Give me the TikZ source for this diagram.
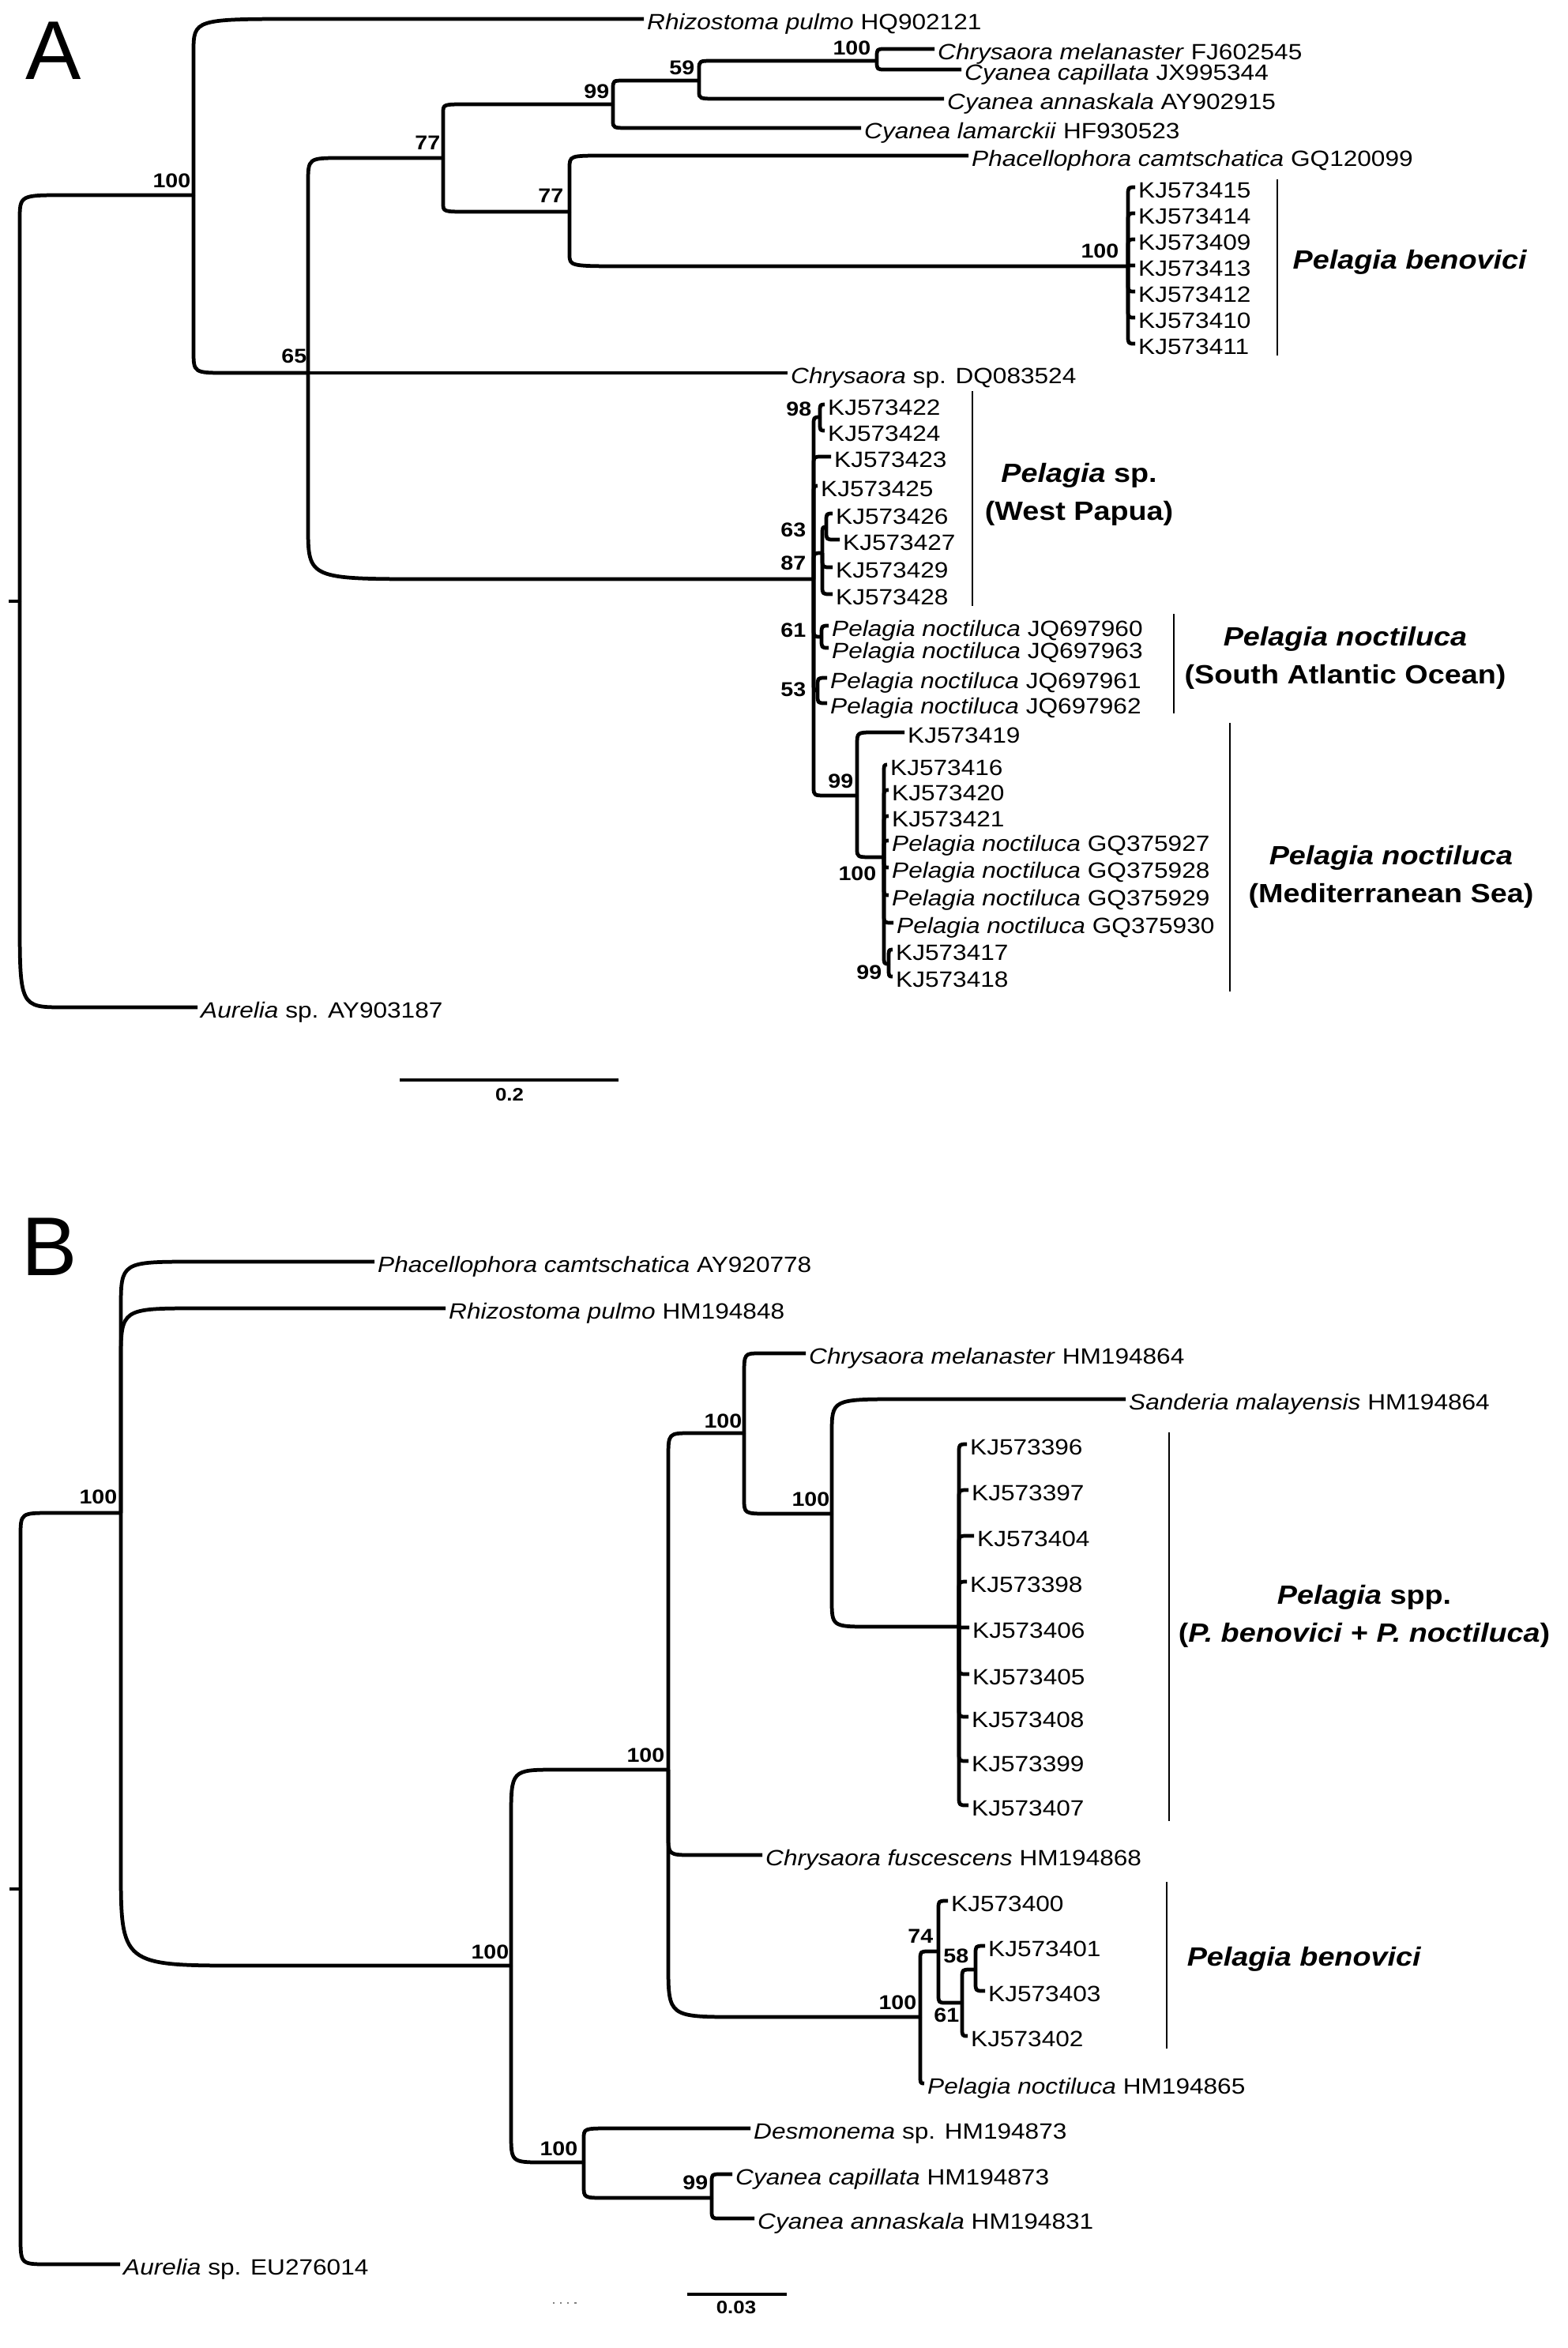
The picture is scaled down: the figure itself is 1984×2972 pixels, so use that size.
\documentclass[tikz,border=0pt]{standalone}
\usepackage{fontspec}
\setmainfont{Liberation Sans}[FakeStretch=1.13]
\newfontfamily\panelfont{Liberation Sans}
\usetikzlibrary{calc}

\newcommand\tipsize{\fontsize{7.95}{9}\selectfont}
\newcommand\bootsize{\fontsize{7.2}{8}\selectfont\bfseries}
\newcommand\cladesize{\fontsize{9.5}{13.66}\selectfont\bfseries}
\newcommand\barsize{\fontsize{6.5}{7}\selectfont\bfseries}

\tikzset{
  tip/.style={anchor=west, inner xsep=1pt, inner ysep=0pt, text height=1.75ex, text depth=0.35ex, font=\tipsize},
  boot/.style={anchor=south east, inner sep=0pt, font=\bootsize},
  clade/.style={inner sep=0pt, align=center, font=\cladesize},
  panel/.style={anchor=base west, inner sep=0pt, font=\panelfont\fontsize{30}{30}\selectfont},
  branch/.style 2 args={line width=1.35pt, line join=round, to path={let \p1=(\tikztostart), \p2=(\tikztotarget),
      \n1={sign(\y1-\y2)}, \n2={min(#2,abs(\y1-\y2))}, \n3={min(#1,\x2-\x1)} in
      (\p1) -- (\x1,{\y2+\n1*\n2}) .. controls (\x1,\y2) .. ({\x1+\n3},\y2) -- (\p2)}},
  branch/.default={3}{3},
  bracket/.style={line width=0.8pt},
  scalebar/.style={line width=0.9pt}
}

\begin{document}
\begin{tikzpicture}[x=0.01cm, y=-0.01cm]
\useasboundingbox (0,0) rectangle (1984,2972);

% ---------------- Panel A ----------------
\node[panel] (labA) at (32,100) {A};

% internal nodes
\coordinate (rA) at (25,761);
\coordinate (a100) at (245,247);
\coordinate (n65) at (390,472);
\coordinate (n77a) at (561,200);
\coordinate (n99a) at (776,132);
\coordinate (n59) at (885,102);
\coordinate (n100c) at (1110,77);
\coordinate (n77b) at (721,268);
\coordinate (pb100) at (1428,337);
\coordinate (nbase) at (1030,733);
\coordinate (n98) at (1038,528);
\coordinate (n63) at (1041,700);
\coordinate (nsub63) at (1046,667);
\coordinate (n61) at (1040,806);
\coordinate (n53) at (1035,874);
\coordinate (n99m) at (1085,1007);
\coordinate (n100m) at (1119,1085);
\coordinate (n99s) at (1125,1220);

% taxa
\node[tip] (rhiA) at (815,24) {\textit{Rhizostoma pulmo} HQ902121};
\node[tip] (chrmelA) at (1183,62) {\textit{Chrysaora melanaster} FJ602545};
\node[tip] (cycapA) at (1217,88) {\textit{Cyanea capillata} JX995344};
\node[tip] (cyannA) at (1195,125) {\textit{Cyanea annaskala} AY902915};
\node[tip] (cylamA) at (1090,162) {\textit{Cyanea lamarckii} HF930523};
\node[tip] (phacA) at (1226,197) {\textit{Phacellophora camtschatica} GQ120099};
\node[tip] (kj15) at (1437,237) {KJ573415};
\node[tip] (kj14) at (1437,270) {KJ573414};
\node[tip] (kj09) at (1437,303) {KJ573409};
\node[tip] (kj13) at (1437,336) {KJ573413};
\node[tip] (kj12) at (1437,369) {KJ573412};
\node[tip] (kj10) at (1437,402) {KJ573410};
\node[tip] (kj11) at (1437,435) {KJ573411};
\node[tip] (chrspA) at (997,472) {\textit{Chrysaora} sp. DQ083524};
\node[tip] (kj22) at (1044,512) {KJ573422};
\node[tip] (kj24) at (1044,545) {KJ573424};
\node[tip] (kj23) at (1052,578) {KJ573423};
\node[tip] (kj25) at (1035,615) {KJ573425};
\node[tip] (kj26) at (1054,650) {KJ573426};
\node[tip] (kj27) at (1063,683) {KJ573427};
\node[tip] (kj29) at (1054,718) {KJ573429};
\node[tip] (kj28) at (1054,752) {KJ573428};
\node[tip] (jq60) at (1049,792) {\textit{Pelagia noctiluca} JQ697960};
\node[tip] (jq63) at (1049,820) {\textit{Pelagia noctiluca} JQ697963};
\node[tip] (jq61) at (1047,858) {\textit{Pelagia noctiluca} JQ697961};
\node[tip] (jq62) at (1047,890) {\textit{Pelagia noctiluca} JQ697962};
\node[tip] (kj19) at (1145,927) {KJ573419};
\node[tip] (kj16) at (1123,968) {KJ573416};
\node[tip] (kj20) at (1125,1000) {KJ573420};
\node[tip] (kj21) at (1125,1033) {KJ573421};
\node[tip] (gq27) at (1125,1064) {\textit{Pelagia noctiluca} GQ375927};
\node[tip] (gq28) at (1125,1098) {\textit{Pelagia noctiluca} GQ375928};
\node[tip] (gq29) at (1125,1133) {\textit{Pelagia noctiluca} GQ375929};
\node[tip] (gq30) at (1131,1168) {\textit{Pelagia noctiluca} GQ375930};
\node[tip] (kj17) at (1130,1202) {KJ573417};
\node[tip] (kj18) at (1130,1236) {KJ573418};
\node[tip] (aurA) at (250,1275) {\textit{Aurelia} sp. AY903187};

% branches
\draw[line width=1.35pt] (rA) -- ++(-14,0);
\draw[branch={16}{9}] (rA) to (a100);
\draw[branch={16}{33}] (rA) to (aurA.west);
\draw[branch={39}{12}] (a100) to (rhiA.west);
\draw[branch={12}{8}] (a100) to (n65);
\draw[branch={12}{9}] (n65) to (n77a);
\draw[branch] (n65) to (chrspA.west);
\draw[branch={44}{19}] (n65) to (nbase);
\draw[branch={8.5}{3}] (n77a) to (n99a);
\draw[branch={9}{3}] (n77a) to (n77b);
\draw[branch={4}{3}] (n99a) to (n59);
\draw[branch={6}{2.6}] (n99a) to (cylamA.west);
\draw[branch={5}{3}] (n59) to (n100c);
\draw[branch={7}{2.5}] (n59) to (cyannA.west);
\draw[branch] (n100c) to (chrmelA.west);
\draw[branch] (n100c) to (cycapA.west);
\draw[branch={12.5}{4.5}] (n77b) to (phacA.west);
\draw[branch={21}{4.3}] (n77b) to (pb100);
\foreach \t in {kj15,kj14,kj09,kj13,kj12,kj10,kj11}
  \draw[branch] (pb100) to (\t.west);
\foreach \t in {n98,n63,n61,n53}
  \draw[branch] (nbase) to (\t);
\foreach \t in {kj23,kj25}
  \draw[branch] (nbase) to (\t.west);
\draw[branch={5}{3}] (nbase) to (n99m);
\draw[branch] (n98) to (kj22.west);
\draw[branch] (n98) to (kj24.west);
\draw[branch] (n63) to (nsub63);
\draw[branch] (n63) to (kj29.west);
\draw[branch] (n63) to (kj28.west);
\draw[branch] (nsub63) to (kj26.west);
\draw[branch] (nsub63) to (kj27.west);
\draw[branch] (n61) to (jq60.west);
\draw[branch] (n61) to (jq63.west);
\draw[branch] (n53) to (jq61.west);
\draw[branch] (n53) to (jq62.west);
\draw[branch={6}{4.5}] (n99m) to (kj19.west);
\draw[branch={6}{3}] (n99m) to (n100m);
\foreach \t in {kj16,kj20,kj21,gq27,gq28,gq29,gq30}
  \draw[branch] (n100m) to (\t.west);
\draw[branch] (n100m) to (n99s);
\draw[branch] (n99s) to (kj17.west);
\draw[branch] (n99s) to (kj18.west);

% bootstrap values
\node[boot] at (242,238) {100};
\node[boot] at (389,460) {65};
\node[boot] at (558,190) {77};
\node[boot] at (772,125) {99};
\node[boot] at (880,95) {59};
\node[boot] at (1103,70) {100};
\node[boot] at (714,257) {77};
\node[boot] at (1417,327) {100};
\node[boot] at (1028,527) {98};
\node[boot] at (1021,680) {63};
\node[boot] at (1021,722) {87};
\node[boot] at (1021,807) {61};
\node[boot] at (1021,882) {53};
\node[boot] at (1081,998) {99};
\node[boot] at (1110,1115) {100};
\node[boot] at (1117,1240) {99};

% clades
\draw[bracket] (1617,227) -- (1617,450);
\node[clade, anchor=west] (benA) at (1636,332) {\textit{Pelagia benovici}};
\draw[bracket] (1231,495) -- (1231,767);
\node[clade] (papua) at (1366,626) {\textit{Pelagia} sp.\\(West Papua)};
\draw[bracket] (1486,777) -- (1486,903);
\node[clade] (atlant) at (1703,833) {\textit{Pelagia noctiluca}\\(South Atlantic Ocean)};
\draw[bracket] (1557,915) -- (1557,1255);
\node[clade] (medit) at (1761,1110) {\textit{Pelagia noctiluca}\\(Mediterranean Sea)};

% scale
\draw[scalebar] (506,1367) -- (783,1367);
\node[anchor=north, inner sep=0pt, font=\barsize] (barA) at (645,1377) {0.2};

% ---------------- Panel B ----------------
\node[panel] (labB) at (27,1614) {B};

\coordinate (rB) at (26,2391);
\coordinate (b100r) at (153,1915);
\coordinate (bBig) at (647,2488);
\coordinate (b100c) at (846,2240);
\coordinate (b100e) at (942,1814);
\coordinate (b100g) at (1053,1916);
\coordinate (bPs) at (1214,2059);
\coordinate (b100f) at (1165,2553);
\coordinate (b74) at (1188,2470);
\coordinate (b61) at (1218,2535);
\coordinate (b58) at (1235,2493);
\coordinate (b100d) at (739,2737);
\coordinate (b99) at (901,2782);

\node[tip] (phacB) at (474,1597) {\textit{Phacellophora camtschatica} AY920778};
\node[tip] (rhiB) at (564,1656) {\textit{Rhizostoma pulmo} HM194848};
\node[tip] (chrmelB) at (1020,1713) {\textit{Chrysaora melanaster} HM194864};
\node[tip] (sand) at (1425,1771) {\textit{Sanderia malayensis} HM194864};
\node[tip] (kj96) at (1224,1828) {KJ573396};
\node[tip] (kj97) at (1226,1886) {KJ573397};
\node[tip] (kj04) at (1233,1944) {KJ573404};
\node[tip] (kj98) at (1224,2002) {KJ573398};
\node[tip] (kj06) at (1227,2060) {KJ573406};
\node[tip] (kj05) at (1227,2119) {KJ573405};
\node[tip] (kj08) at (1226,2173) {KJ573408};
\node[tip] (kj99) at (1226,2229) {KJ573399};
\node[tip] (kj07) at (1226,2285) {KJ573407};
\node[tip] (chrfus) at (965,2348) {\textit{Chrysaora fuscescens} HM194868};
\node[tip] (kj00) at (1200,2406) {KJ573400};
\node[tip] (kj01) at (1247,2463) {KJ573401};
\node[tip] (kj03) at (1247,2520) {KJ573403};
\node[tip] (kj02) at (1225,2577) {KJ573402};
\node[tip] (pnoctB) at (1170,2637) {\textit{Pelagia noctiluca} HM194865};
\node[tip] (desm) at (950,2694) {\textit{Desmonema} sp. HM194873};
\node[tip] (cycapB) at (927,2752) {\textit{Cyanea capillata} HM194873};
\node[tip] (cyannB) at (955,2808) {\textit{Cyanea annaskala} HM194831};
\node[tip] (aurB) at (152,2866) {\textit{Aurelia} sp. EU276014};

\draw[line width=1.35pt] (rB) -- ++(-14,0);
\draw[branch={11}{8.5}] (rB) to (b100r);
\draw[branch={10}{10}] (rB) to (aurB.west);
\draw[branch={27}{17}] (b100r) to (phacB.west);
\draw[branch={28}{19}] (b100r) to (rhiB.west);
\draw[branch={45}{36}] (b100r) to (bBig);
\draw[branch={16.5}{17.6}] (bBig) to (b100c);
\draw[branch={11.7}{10.5}] (bBig) to (b100d);
\draw[branch={8}{9}] (b100c) to (b100e);
\draw[branch={9}{7}] (b100c) to (chrfus.west);
\draw[branch={25.5}{19}] (b100c) to (b100f);
\draw[branch={5.7}{8}] (b100e) to (chrmelB.west);
\draw[branch={9}{5.4}] (b100e) to (b100g);
\draw[branch={25}{12.5}] (b100g) to (sand.west);
\draw[branch={14}{10}] (b100g) to (bPs);
\foreach \t in {kj96,kj97,kj04,kj98,kj06,kj05,kj08,kj99,kj07}
  \draw[branch] (bPs) to (\t.west);
\draw[branch] (b100f) to (b74);
\draw[branch] (b100f) to (pnoctB.west);
\draw[branch] (b74) to (kj00.west);
\draw[branch] (b74) to (b61);
\draw[branch] (b61) to (b58);
\draw[branch] (b61) to (kj02.west);
\draw[branch] (b58) to (kj01.west);
\draw[branch] (b58) to (kj03.west);
\draw[branch={9.7}{3.7}] (b100d) to (desm.west);
\draw[branch={8}{4.3}] (b100d) to (b99);
\draw[branch] (b99) to (cycapB.west);
\draw[branch] (b99) to (cyannB.west);

\node[boot] at (149,1904) {100};
\node[boot] at (940,1808) {100};
\node[boot] at (1051,1907) {100};
\node[boot] at (842,2231) {100};
\node[boot] at (645,2480) {100};
\node[boot] at (1161,2544) {100};
\node[boot] at (1182,2460) {74};
\node[boot] at (1227,2485) {58};
\node[boot] at (1215,2560) {61};
\node[boot] at (732,2729) {100};
\node[boot] at (897,2772) {99};

\draw[bracket] (1480,1813) -- (1480,2305);
\node[clade] (pspp) at (1727,2046) {\textit{Pelagia} spp.\\(\textit{P. benovici} + \textit{P. noctiluca})};
\draw[bracket] (1477,2382) -- (1477,2593);
\node[clade] (benB) at (1651,2480) {\textit{Pelagia benovici}};

\draw[gray, dotted, line width=0.6pt] (700,2915) -- (732,2915);
\draw[scalebar] (870,2904) -- (996,2904);
\node[anchor=north, inner sep=0pt, font=\barsize] (barB) at (932,2912) {0.03};
\end{tikzpicture}
\end{document}
